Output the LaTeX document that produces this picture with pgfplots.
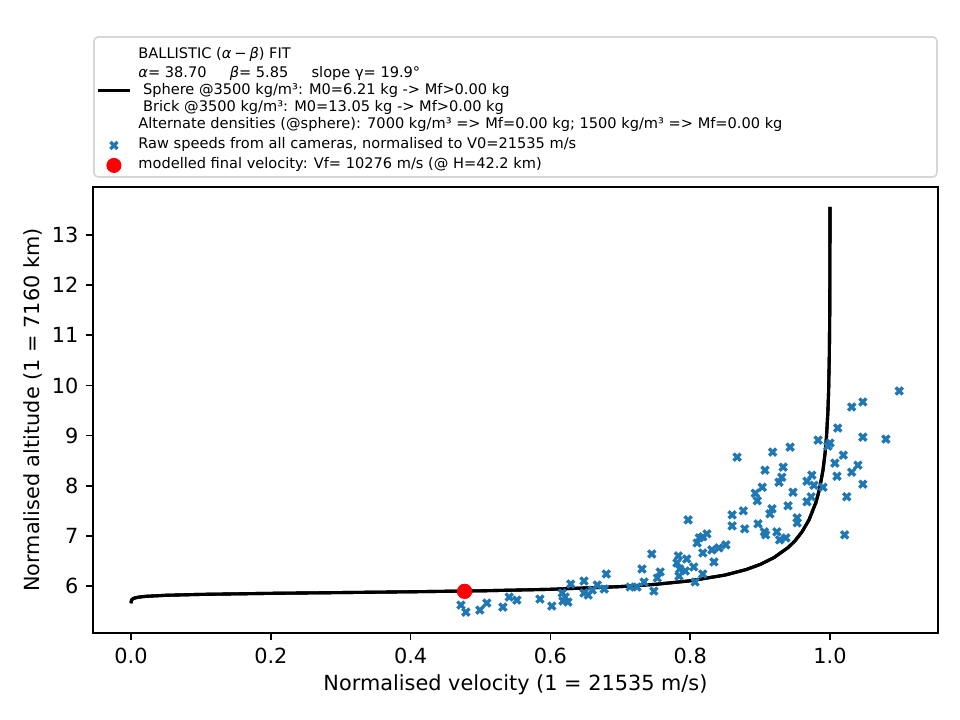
\documentclass[border=0pt]{standalone}
\usepackage{pgfplots}
\pgfplotsset{compat=1.18}
\usepackage{pgfplotstable}
\usepackage{fontspec}
\setmainfont{DejaVu Sans}
\definecolor{c0}{HTML}{1F77B4}
\definecolor{legframe}{HTML}{D6D6D6}

\pgfplotsset{
  lineleg/.style={legend image code/.code={\draw[##1] (0pt,0pt) -- (15.4pt,0pt);}},
  markleg/.style={legend image code/.code={\draw[##1] plot coordinates {(7.7pt,0pt)};}},
}

\pgfplotstableread{
v h
0.00005 5.656
0.0005 5.706
0.001 5.722
0.002 5.738
0.005 5.759
0.01 5.776
0.02 5.793
0.05 5.815
0.1 5.833
0.2 5.854
0.3 5.869
0.4 5.885
0.5 5.904
0.6 5.934
0.7 5.988
0.75 6.033
0.8 6.104
0.85 6.219
0.88 6.328
0.9 6.430
0.92 6.568
0.94 6.767
0.95 6.902
0.96 7.081
0.97 7.320
0.98 7.673
0.985 7.935
0.99 8.314
0.993 8.655
0.995 8.980
0.997 9.480
0.998 9.881
0.999 10.569
0.9995 11.26
0.9998 12.174
0.9999 12.867
0.99995 13.56
}\curvedata

\pgfplotstableread{
v h
0.472 5.62
0.479 5.48
0.499 5.52
0.509 5.66
0.532 5.58
0.541 5.78
0.552 5.72
0.585 5.74
0.602 5.60
0.617 5.86
0.618 5.70
0.625 5.68
0.629 6.04
0.621 5.78
0.648 6.10
0.648 5.86
0.654 5.82
0.660 5.92
0.667 6.02
0.677 5.94
0.680 6.24
0.714 5.98
0.724 5.98
0.731 6.34
0.734 6.08
0.745 6.64
0.748 5.90
0.753 6.16
0.757 6.28
0.783 6.60
0.781 6.46
0.785 6.34
0.784 6.20
0.795 6.54
0.793 6.30
0.805 6.38
0.807 6.08
0.818 6.24
0.834 6.48
0.797 7.32
0.810 6.86
0.813 6.96
0.818 6.66
0.824 7.04
0.818 6.98
0.831 6.72
0.841 6.76
0.851 6.82
0.860 7.42
0.860 7.20
0.867 8.57
0.876 7.50
0.878 7.14
0.893 7.85
0.896 7.70
0.897 7.24
0.903 7.97
0.906 7.08
0.908 7.02
0.907 8.31
0.917 7.54
0.914 7.44
0.918 8.67
0.924 7.08
0.928 6.92
0.937 6.96
0.931 8.17
0.927 8.07
0.933 8.37
0.943 8.77
0.940 7.60
0.947 7.87
0.953 7.36
0.953 7.26
0.967 8.09
0.967 7.68
0.973 7.78
0.974 8.21
0.977 8.01
0.983 8.91
0.990 7.97
1.000 8.85
0.997 8.79
1.011 9.15
1.031 9.57
1.047 9.67
1.099 9.89
1.047 8.97
1.080 8.93
1.019 8.61
1.007 8.45
1.040 8.41
1.031 8.27
1.010 8.19
1.047 8.03
1.024 7.78
1.021 7.02
}\rawdata

\pgfplotstableread{
v h
0.4772 5.894
}\finaldata

\begin{document}
\begin{tikzpicture}
\useasboundingbox (-44.64pt,-41.76pt) rectangle (416.16pt,303.84pt);
\begin{axis}[
  at={(0pt,0pt)}, anchor=south west,
  scale only axis, width=405.6pt, height=214.08pt,
  xmin=-0.0544, xmax=1.1545, ymin=5.063, ymax=13.957,
  axis line style={line width=0.8pt, black},
  tick align=outside, tick pos=left,
  major tick length=3.5pt,
  every tick/.style={line width=0.8pt, black},
  xtick={0,0.2,0.4,0.6,0.8,1.0},
  ytick={6,7,8,9,10,11,12,13},
  xticklabel style={/pgf/number format/.cd, fixed, fixed zerofill, precision=1},
  /pgf/number format/assume math mode=true,
  tick label style={font=\fontsize{10}{12}\selectfont},
  label style={font=\fontsize{10}{12}\selectfont},
  xlabel={Normalised velocity (1 = 21535 m/s)},
  ylabel={Normalised altitude (1 = 7160 km)},
  xlabel style={at={(axis description cs:0.5,-0.1168)}, anchor=center},
  ylabel style={at={(axis description cs:-0.071,0.5)}, anchor=center},
  legend cell align=left,
  legend style={
    at={(0,1)}, anchor=north west, xshift=1.4pt, yshift=68.2pt,
    draw=none, fill=none, inner sep=0pt,
    font=\fontsize{7}{8.3}\selectfont,
    nodes={inner sep=0.5pt, text depth=},
    row sep=0.3pt,
    /tikz/every odd column/.append style={column sep=2.8pt},
  },
  clip=true,
]
\addplot[black, line width=1.5pt, no markers, lineleg]
  table[x=v, y=h] {\curvedata};
\addlegendentry{\begin{tabular}{@{}l@{}}BALLISTIC (\textit{α}\hspace{0.2em}−\hspace{0.2em}\textit{β}) FIT\\[0.6pt]
\textit{α}= 38.70\ \ \ \ \ \textit{β}= 5.85\ \ \ \ \ slope γ= 19.9°\\
\ Sphere @3500 kg/m³: M0=6.21 kg -> Mf>0.00 kg\\
\ Brick @3500 kg/m³: M0=13.05 kg -> Mf>0.00 kg\\
Alternate densities (@sphere): 7000 kg/m³ => Mf=0.00 kg; 1500 kg/m³ => Mf=0.00 kg\end{tabular}}

\addplot[only marks, mark=x, mark size=2.4pt, c0, mark options={line width=1.6pt, c0}, markleg]
  table[x=v, y=h] {\rawdata};
\addlegendentry{\begin{tabular}{@{}l@{}}Raw speeds from all cameras, normalised to V0=21535 m/s\end{tabular}}

\addplot[only marks, mark=*, mark size=3.4pt, red, mark options={draw=red, fill=red}, markleg]
  table[x=v, y=h] {\finaldata};
\addlegendentry{\begin{tabular}{@{}l@{}}modelled final velocity: Vf= 10276 m/s (@ H=42.2 km)\end{tabular}}

\addplot[black, line width=1.5pt, no markers, forget plot] table[x=v, y=h] {\curvedata};
\addplot[only marks, mark=*, mark size=3.4pt, red, mark options={draw=red, fill=red}, forget plot]
  table[x=v, y=h] {\finaldata};
\end{axis}
\draw[legframe, line width=0.8pt, rounded corners=2pt] (0.48pt,218.88pt) rectangle (405.12pt,286.08pt);
\end{tikzpicture}
\end{document}
